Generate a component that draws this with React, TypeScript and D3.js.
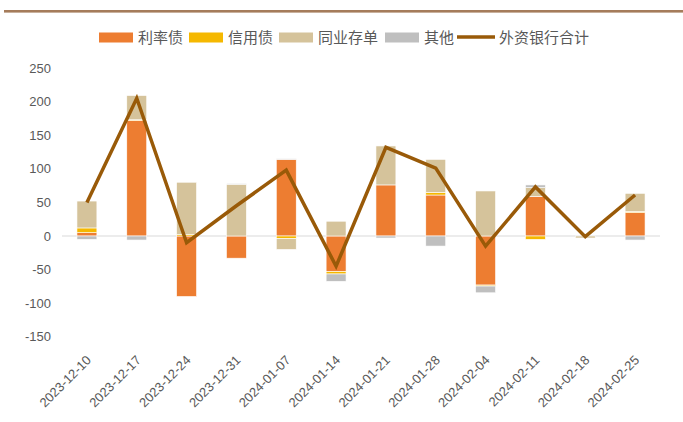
import React, { useEffect, useRef } from "react";
import * as d3 from "d3";

const categories = [
  "2023-12-10", "2023-12-17", "2023-12-24", "2023-12-31", "2024-01-07", "2024-01-14",
  "2024-01-21", "2024-01-28", "2024-02-04", "2024-02-11", "2024-02-18", "2024-02-25",
];
const rateBond = [5, 172, -90, -33, 114, -53, 76, 61, -73, 59, 0, 35];
const creditBond = [7, 1, 2, 0, -4, -3.5, 0, 4, -1.5, -5, 0, 1.5];
const ncd = [40, 36, 78, 77, -16, 22, 58, 49, 67, 13, -3, 27];
const other = [-5, -6, 0, 1, 1, -11, -3, -15, -10, 4, 0, -6];
const foreignTotal = [50, 205, -10, 45, 98, -45, 132, 101, -15, 73, -1, 61];
const yTicks = [-150, -100, -50, 0, 50, 100, 150, 200, 250];

const seriesNames = ["利率债", "信用债", "同业存单", "其他"];
const lineName = "外资银行合计";
const colors = ["#ED7D31", "#F5B800", "#D5C39B", "#BFBFBF"];
const lineColor = "#995A08";

const W = 683;
const H = 422;
const FONT = "'Liberation Sans', 'Noto Sans CJK SC', sans-serif";

const App = () => {
  const ref = useRef(null);

  useEffect(() => {
    const root = d3.select(ref.current);
    root.selectAll("*").remove();
    const svg = root.append("svg").attr("width", W).attr("height", H).style("display", "block");

    // top rule
    svg.append("rect").attr("x", 4).attr("y", 10).attr("width", W - 4).attr("height", 2.6).attr("fill", "#A57C5B");

    const x = d3.scaleBand().domain(categories).range([62, 660]).paddingInner(0.6).paddingOuter(0.3);
    const y = d3.scaleLinear().domain([-150, 250]).range([336.8, 68]);

    const rows = categories.map((c, i) => ({
      cat: c,
      s0: rateBond[i],
      s1: creditBond[i],
      s2: ncd[i],
      s3: other[i],
    }));
    const stack = d3.stack().keys(["s0", "s1", "s2", "s3"]).offset(d3.stackOffsetDiverging);
    const layers = stack(rows);

    // y tick labels
    svg
      .append("g")
      .selectAll("text")
      .data(yTicks)
      .enter()
      .append("text")
      .attr("x", 51)
      .attr("y", (d) => y(d))
      .attr("dy", "0.35em")
      .attr("text-anchor", "end")
      .attr("font-family", FONT)
      .attr("font-size", 13)
      .attr("fill", "#595959")
      .text((d) => d);

    // zero line
    svg
      .append("line")
      .attr("x1", 62)
      .attr("x2", 660)
      .attr("y1", y(0))
      .attr("y2", y(0))
      .attr("stroke", "#D9D9D9")
      .attr("stroke-width", 1);

    layers.forEach((layer, li) => {
      svg
        .append("g")
        .selectAll("rect")
        .data(layer)
        .enter()
        .append("rect")
        .attr("x", (d) => x(d.data.cat))
        .attr("width", x.bandwidth())
        .attr("y", (d) => y(Math.max(d[0], d[1])))
        .attr("height", (d) => Math.abs(y(d[0]) - y(d[1])))
        .attr("fill", colors[li])
        .attr("stroke", "#fff")
        .attr("stroke-width", 0.6);
    });

    const line = d3
      .line()
      .x((d, i) => x(categories[i]) + x.bandwidth() / 2)
      .y((d) => y(d));
    svg
      .append("path")
      .attr("d", line(foreignTotal))
      .attr("fill", "none")
      .attr("stroke", lineColor)
      .attr("stroke-width", 3.5);

    // x labels, rotated
    svg
      .append("g")
      .selectAll("text")
      .data(categories)
      .enter()
      .append("text")
      .attr("transform", (d) => `translate(${x(d) + x.bandwidth() / 2 + 5},${361}) rotate(-45)`)
      .attr("text-anchor", "end")
      .attr("font-family", FONT)
      .attr("font-size", 13)
      .attr("fill", "#595959")
      .text((d) => d);

    // legend
    const legend = svg.append("g").attr("font-family", FONT).attr("font-size", 15).attr("fill", "#595959");
    const legendX = [99, 189, 279, 385];
    seriesNames.forEach((name, i) => {
      legend.append("rect").attr("x", legendX[i]).attr("y", 32.5).attr("width", 34).attr("height", 10).attr("fill", colors[i]);
      legend.append("text").attr("x", legendX[i] + 39).attr("y", 37.5).attr("dy", "0.35em").text(name);
    });
    legend
      .append("line")
      .attr("x1", 457)
      .attr("x2", 495)
      .attr("y1", 37)
      .attr("y2", 37)
      .attr("stroke", lineColor)
      .attr("stroke-width", 3.5);
    legend.append("text").attr("x", 499).attr("y", 37.5).attr("dy", "0.35em").text(lineName);
  }, []);

  return <div ref={ref} style={{ position: "absolute", left: 0, top: 0, background: "#fff" }}></div>;
};

export default App;
